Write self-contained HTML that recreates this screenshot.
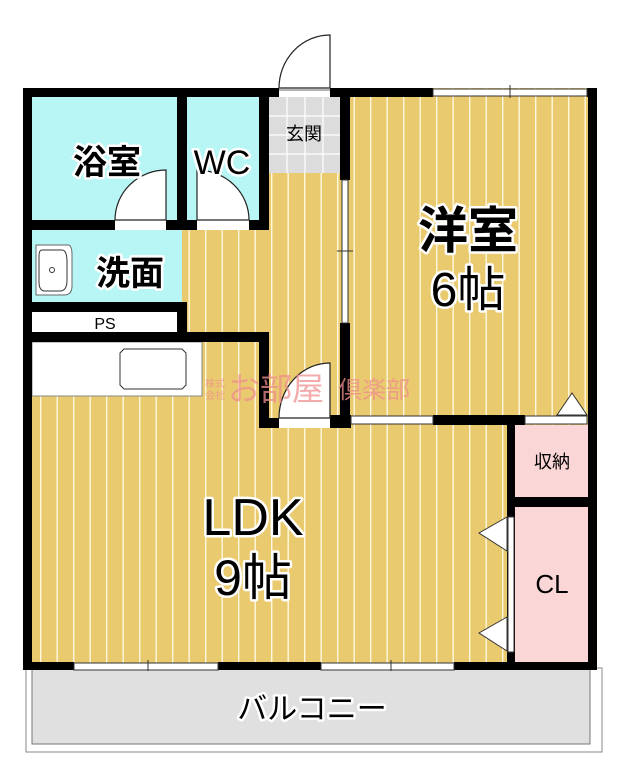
<!DOCTYPE html>
<html><head><meta charset="utf-8"><style>
html,body{margin:0;padding:0;background:#fff;}
svg{display:block;}
text{font-family:"Liberation Sans","Noto Sans CJK JP",sans-serif;}
.lb{fill:#000;stroke:#fff;stroke-width:5;paint-order:stroke;stroke-linejoin:round;}
</style></head><body>
<svg width="620" height="784" viewBox="0 0 620 784" xmlns="http://www.w3.org/2000/svg">
<defs>
<pattern id="fl" x="0" y="0" width="16.5" height="10" patternUnits="userSpaceOnUse">
<rect width="16.5" height="10" fill="#e9ca6e"/>
<rect x="7" width="1.4" height="10" fill="#fff8e0"/>
</pattern>
</defs>
<rect x="26" y="668" width="576" height="84" fill="#fff" stroke="#888" stroke-width="1"/>
<rect x="32" y="668" width="558" height="76" fill="#e0e0e0" stroke="#777" stroke-width="1"/>
<rect x="23" y="88" width="574" height="580" fill="url(#fl)"/>
<rect x="32" y="97" width="145" height="123" fill="#b8f6f6"/>
<rect x="187" y="97" width="72" height="123" fill="#b8f6f6"/>
<rect x="32" y="230" width="150" height="72" fill="#b8f6f6"/>
<rect x="32" y="312" width="145" height="20" fill="#fff"/>
<rect x="269" y="97" width="71" height="76" fill="#dcdcdc"/>
<g stroke="#fff" stroke-width="1.2">
<line x1="287" y1="97" x2="287" y2="173"/><line x1="305" y1="97" x2="305" y2="173"/><line x1="323" y1="97" x2="323" y2="173"/>
<line x1="269" y1="116" x2="340" y2="116"/><line x1="269" y1="135" x2="340" y2="135"/><line x1="269" y1="154" x2="340" y2="154"/>
</g>
<rect x="515" y="425" width="73" height="72" fill="#fad6d6"/>
<rect x="515" y="507" width="73" height="155" fill="#fad6d6"/>
<rect x="32" y="342" width="170" height="54" fill="#fff" stroke="#888" stroke-width="1"/>
<path d="M124 349 H182 L186 353 V385 L182 389 H124 L120 385 V353 Z" fill="#fff" stroke="#333" stroke-width="1"/>
<path d="M36 245 H68 Q72 245 72 255 V286 Q72 295 64 295 H36 Z" fill="#fff" stroke="#666" stroke-width="1"/>
<path d="M42 250 H62 Q67 250 67 262 V280 Q67 291 60 291 H44 Q39 290 39 282 V256 Q39 250 42 250 Z" fill="#fff" stroke="#333" stroke-width="1"/>
<circle cx="52" cy="270" r="2.5" fill="none" stroke="#333"/>
<g fill="#000">
<rect x="23" y="88" width="256" height="9"/>
<rect x="330" y="88" width="103" height="9"/>
<rect x="587" y="88" width="10" height="9"/>
<rect x="23" y="88" width="9" height="582"/>
<rect x="588" y="88" width="9" height="582"/>
<rect x="23" y="662" width="51" height="8"/>
<rect x="218" y="662" width="103" height="8"/>
<rect x="454" y="662" width="143" height="8"/>
<rect x="177" y="97" width="10" height="133"/>
<rect x="259" y="97" width="10" height="133"/>
<rect x="340" y="97" width="10" height="83"/>
<rect x="340" y="323" width="10" height="102"/>
<rect x="32" y="220" width="83" height="10"/>
<rect x="166" y="220" width="31" height="10"/>
<rect x="249" y="220" width="20" height="10"/>
<rect x="23" y="302" width="164" height="10"/>
<rect x="177" y="302" width="10" height="40"/>
<rect x="23" y="332" width="246" height="10"/>
<rect x="259" y="332" width="10" height="96"/>
<rect x="259" y="418" width="20" height="10"/>
<rect x="330" y="415" width="21" height="13"/>
<rect x="433" y="415" width="92" height="10"/>
<rect x="507" y="415" width="8" height="255"/>
<rect x="515" y="497" width="82" height="10"/>
</g>
<g fill="#fff" stroke="#333" stroke-width="1">
<rect x="433" y="89" width="154" height="7"/>
<line x1="510" y1="85" x2="510" y2="98"/>
<rect x="74" y="663" width="144" height="7"/>
<line x1="148" y1="660" x2="148" y2="671"/>
<rect x="321" y="663" width="133" height="7"/>
<line x1="391" y1="660" x2="391" y2="671"/>
<rect x="342" y="180" width="6" height="143"/>
<line x1="337" y1="251" x2="353" y2="251"/>
<rect x="351" y="416" width="82" height="8"/>
<rect x="525" y="416" width="62" height="8"/>
<rect x="508" y="517" width="6" height="135"/>
</g>
<g fill="#fff" stroke="#333" stroke-width="1">
<path d="M557 415 L572 393 L587 415 Z"/>
<path d="M507 517 L479 533 L507 551 Z"/>
<path d="M507 617 L479 633 L507 651 Z"/>
</g>
<g fill="#fff" stroke="#222" stroke-width="1.2">
<rect x="279" y="88" width="51" height="9" stroke="none"/>
<path d="M330 88 V35 A51 53 0 0 0 279 88 Z"/>
<line x1="279" y1="90" x2="330" y2="90" stroke="#888"/>
<rect x="115" y="219" width="51" height="11" stroke="none"/>
<path d="M166 220 V170 A51 50 0 0 0 115 220 Z"/>
<rect x="197" y="219" width="52" height="11" stroke="none"/>
<path d="M197 220 V170 A52 50 0 0 1 249 220 Z"/>
<rect x="279" y="417" width="51" height="11" stroke="none"/>
<path d="M330 418 V363 A51 55 0 0 0 279 418 Z"/>
</g>
<g fill="#ef8f8f" opacity="0.75">
<text x="205" y="387" font-size="10">株式</text>
<text x="205" y="399" font-size="10">会社</text>
<text x="228" y="400" font-size="32">お部屋</text>
<text x="338" y="398" font-size="24">倶楽部</text>
</g>
<g font-weight="bold">
<text class="lb" x="107" y="174" font-size="34" text-anchor="middle">浴室</text>
<text class="lb" x="222" y="174" font-size="34" text-anchor="middle" font-weight="normal">WC</text>
<text class="lb" x="130" y="285" font-size="34" text-anchor="middle">洗面</text>
<text class="lb" x="468" y="248" font-size="50" text-anchor="middle">洋室</text>
<text class="lb" x="468" y="306" font-size="48" text-anchor="middle" font-weight="normal">6帖</text>
<text class="lb" x="253" y="535" font-size="52" text-anchor="middle" font-weight="normal">LDK</text>
<text class="lb" x="253" y="595" font-size="50" text-anchor="middle" font-weight="normal">9帖</text>
</g>
<text x="304" y="140" font-size="18" text-anchor="middle">玄関</text>
<text x="105" y="329" font-size="16" text-anchor="middle">PS</text>
<text x="552" y="468" font-size="18" text-anchor="middle">収納</text>
<text x="552" y="593" font-size="26" text-anchor="middle">CL</text>
<text class="lb" x="312" y="719" font-size="30" text-anchor="middle">バルコニー</text>
</svg>
</body></html>
